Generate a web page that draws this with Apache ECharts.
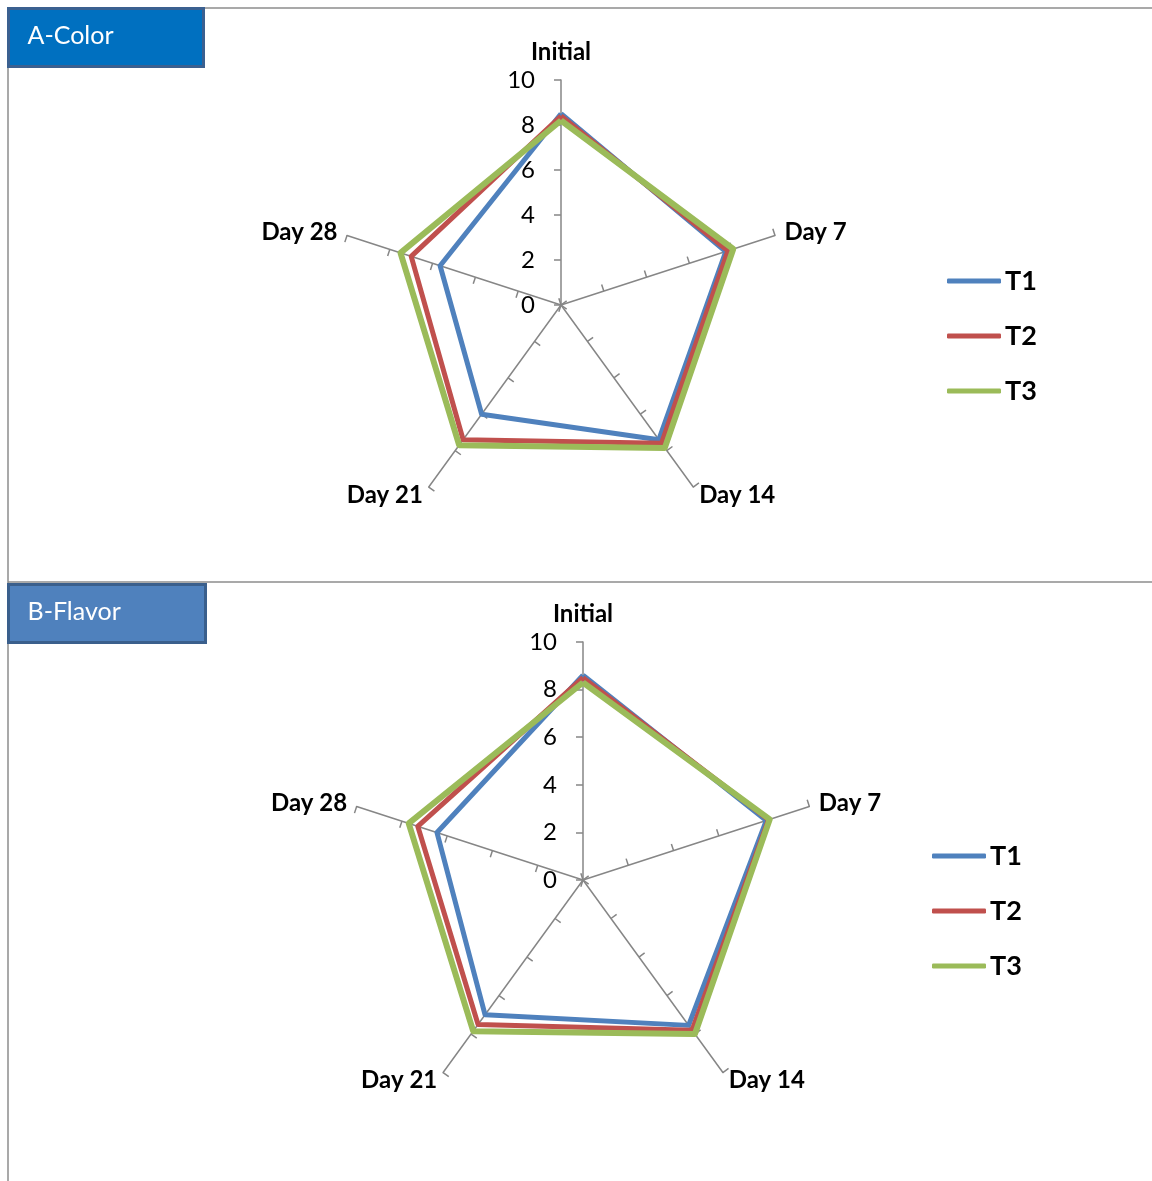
<!DOCTYPE html>
<html>
<head>
<meta charset="utf-8">
<script src="https://cdn.jsdelivr.net/npm/echarts@6/dist/echarts.min.js"></script>
<style>
    html, body { margin: 0; padding: 0; background: #fff; }
    #main { width: 1152px; height: 1181px; }
</style>
</head>
<body>
<div id="main"></div>
<script>
    // 数据
    var days = ['Initial', 'Day 7', 'Day 14', 'Day 21', 'Day 28'];
    var seriesNames = ['T1', 'T2', 'T3'];
    var colors = ['#4F81BD', '#C0504D', '#9BBB59'];
    var lineWidths = [5, 5, 6];
    var axisMax = 10;

    // A-Color
    var colorT1 = [8.5, 7.7, 7.4, 6.0, 5.65];
    var colorT2 = [8.4, 7.8, 7.6, 7.4, 7.0];
    var colorT3 = [8.2, 8.05, 7.85, 7.7, 7.5];

    // B-Flavor
    var flavorT1 = [8.6, 8.1, 7.55, 7.0, 6.45];
    var flavorT2 = [8.5, 8.2, 7.8, 7.5, 7.3];
    var flavorT3 = [8.3, 8.25, 8.0, 7.85, 7.7];

    var font = 'Lato, "Open Sans", sans-serif';
    var axisGrey = '#868686';

    // echarts 雷达图是逆时针排列，这里按顺时针重新排一下
    function clockwise(arr) {
        var out = [arr[0]];
        for (var i = arr.length - 1; i > 0; i--) {
            out.push(arr[i]);
        }
        return out;
    }

    function makeIndicators(showLabel) {
        return clockwise(days).map(function (name, i) {
            var ind = {
                name: name,
                min: 0,
                max: axisMax,
                axisLabel: { show: showLabel && i == 0 }
            };
            if (i == 0) {
                ind.nameGap = 16;
            }
            return ind;
        });
    }

    function makeRadar(center, radius, tickInside, isOverlay) {
        return {
            center: center,
            radius: radius,
            startAngle: 90,
            shape: 'polygon',
            splitNumber: 5,
            nameGap: 10,
            axisName: {
                show: !isOverlay,
                color: '#000',
                fontFamily: font,
                fontWeight: 'bold',
                fontSize: 24
            },
            splitLine: { show: false },
            splitArea: { show: false },
            axisLine: { show: !isOverlay, lineStyle: { color: axisGrey, width: 1.5 } },
            axisTick: { show: true, inside: tickInside, length: 7, lineStyle: { color: axisGrey, width: 1.5 } },
            axisLabel: { show: false, color: '#000', fontFamily: font, fontSize: 24, margin: 26 },
            indicator: makeIndicators(!isOverlay)
        };
    }

    function makeData(list) {
        return list.map(function (vals, i) {
            return {
                name: seriesNames[i],
                value: clockwise(vals),
                lineStyle: { color: colors[i], width: lineWidths[i] },
                itemStyle: { color: colors[i] }
            };
        });
    }

    function makeLegend(left, top) {
        return {
            orient: 'vertical',
            left: left,
            top: top,
            icon: 'roundRect',
            itemWidth: 54,
            itemHeight: 5,
            itemGap: 25,
            textStyle: {
                color: '#000',
                fontFamily: font,
                fontWeight: 'bold',
                fontSize: 27,
                lineHeight: 30,
                padding: [0, 0, 0, -1]
            },
            data: seriesNames
        };
    }

    function titleBox(x, y, w, h, fill, border, text) {
        return {
            type: 'group',
            left: x,
            top: y,
            children: [{
                type: 'rect',
                shape: { x: 0, y: 0, width: w, height: h },
                style: { fill: fill, stroke: border, lineWidth: 3 }
            }, {
                type: 'text',
                x: 19,
                y: h / 2 - 2,
                style: {
                    text: text,
                    fill: '#fff',
                    font: '25px ' + font,
                    verticalAlign: 'middle'
                }
            }]
        };
    }

    var myChart = echarts.init(document.getElementById('main'));
    var option = {
        animation: false,
        backgroundColor: '#fff',
        color: colors,
        graphic: [{
            type: 'line',
            shape: { x1: 8, y1: 8, x2: 1152, y2: 8 },
            style: { stroke: '#8c8c8c', lineWidth: 1.5 }
        }, {
            type: 'line',
            shape: { x1: 8, y1: 8, x2: 8, y2: 1181 },
            style: { stroke: '#8c8c8c', lineWidth: 1.5 }
        }, {
            type: 'line',
            shape: { x1: 8, y1: 582, x2: 1152, y2: 582 },
            style: { stroke: '#8c8c8c', lineWidth: 1.5 }
        },
            titleBox(7, 7, 195, 58, '#0070C0', '#3B6090', 'A-Color'),
            titleBox(7, 583, 197, 58, '#4F81BD', '#3A5F8C', 'B-Flavor')
        ],
        legend: [makeLegend(942, 261), makeLegend(927, 836)],
        radar: [
            makeRadar([561, 305], 225, true, false),
            makeRadar([583, 880], 238, true, false),
            makeRadar([583, 880], 238, false, true)
        ],
        series: [{
            type: 'radar',
            radarIndex: 0,
            symbol: 'none',
            data: makeData([colorT1, colorT2, colorT3])
        }, {
            type: 'radar',
            radarIndex: 1,
            symbol: 'none',
            data: makeData([flavorT1, flavorT2, flavorT3])
        }]
    };
    myChart.setOption(option);
</script>
</body>
</html>
